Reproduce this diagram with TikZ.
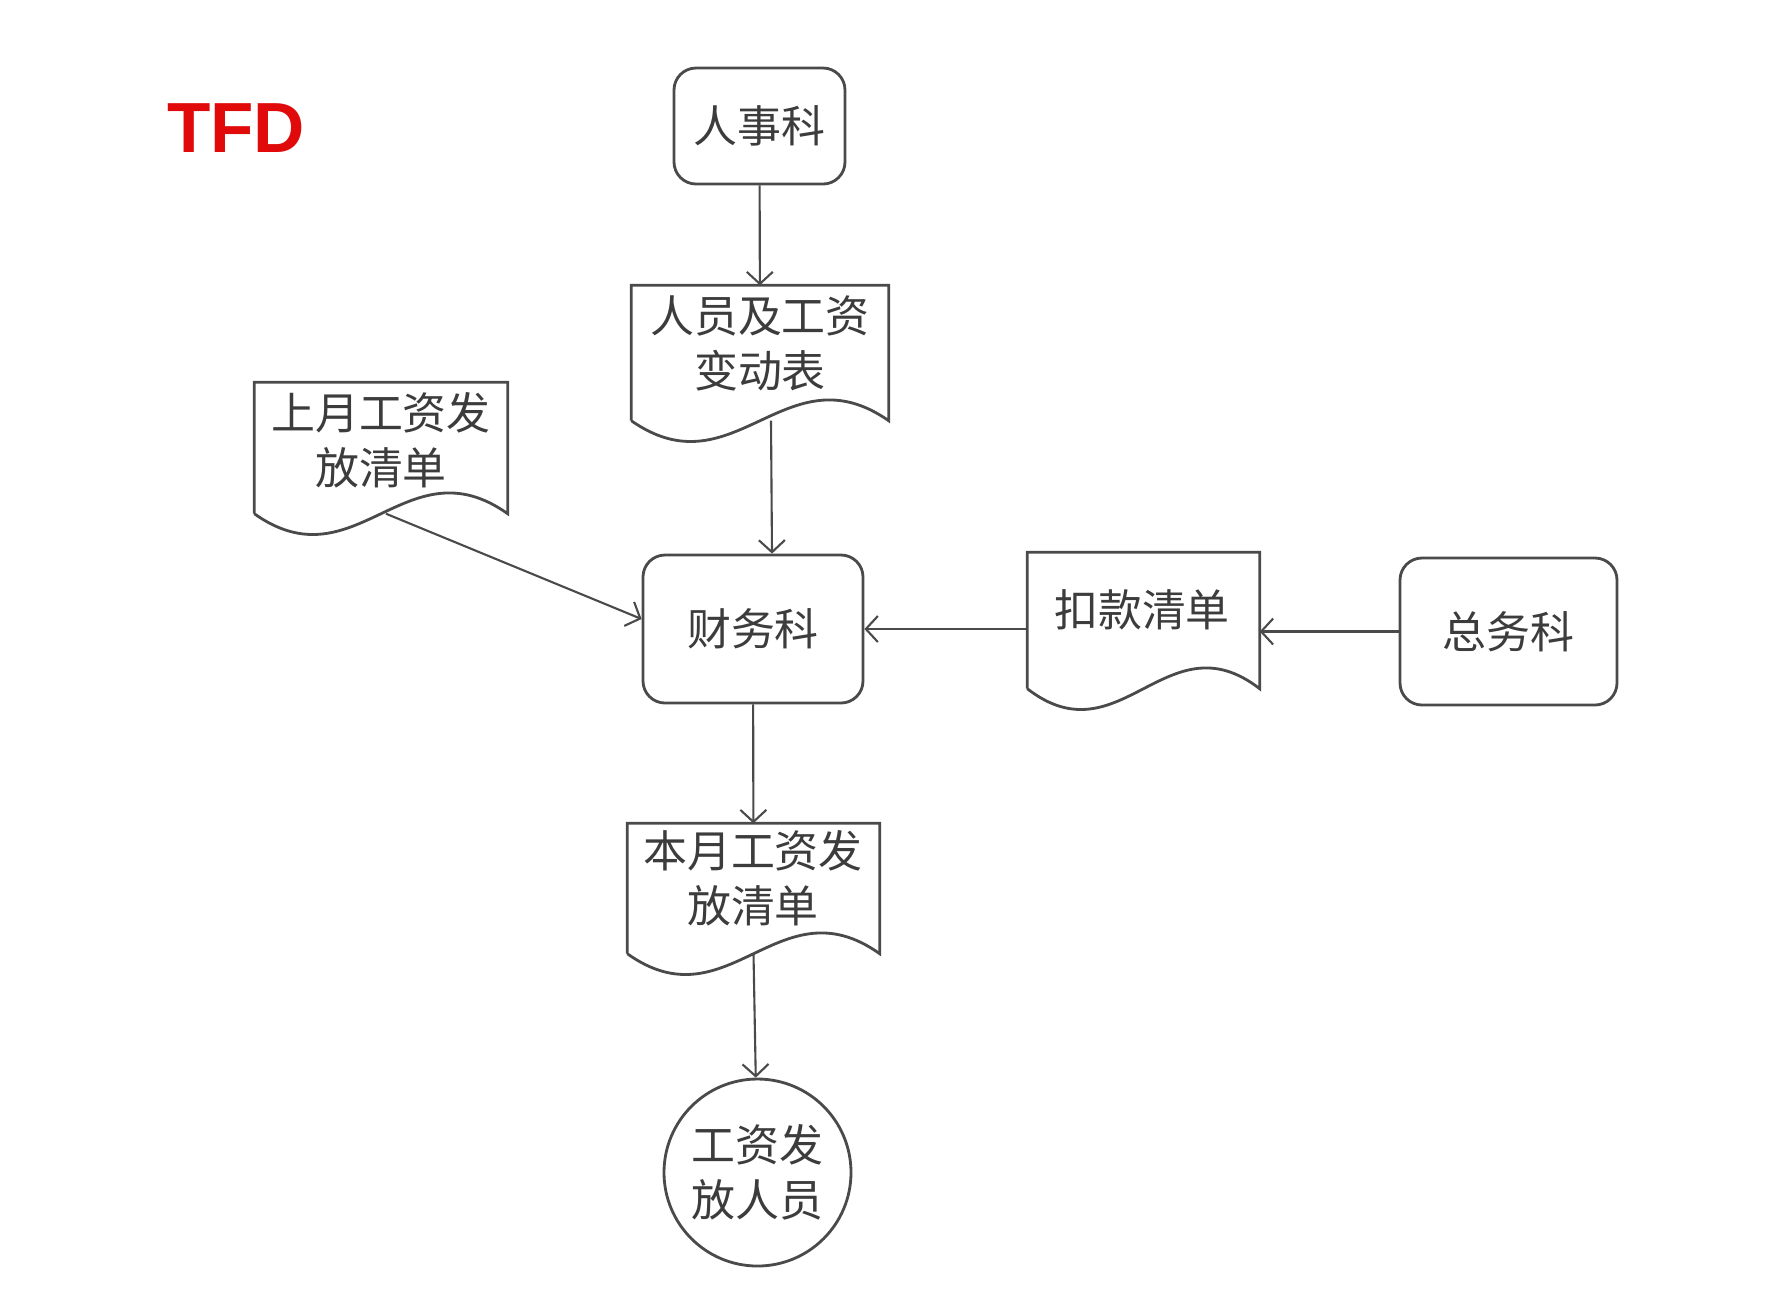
\documentclass[tikz,border=0pt]{standalone}
\usepackage{fontspec}
\setmainfont{Liberation Sans}
\newfontfamily\cjk{Noto Sans CJK SC}
\usetikzlibrary{arrows.meta,calc}

\definecolor{lineGray}{HTML}{4A4A4A}
\definecolor{textGray}{HTML}{3C3C3C}
\definecolor{tfdRed}{HTML}{E10A0A}

% outline of a document node: three straight sides and a wavy bottom
\newcommand{\docwave}[1]{%
    \draw[shapeLine] (#1.south west) -- (#1.north west) -- (#1.north east) -- (#1.south east)
        .. controls ($(#1.south west)!0.6!(#1.south east)+(0,0.72)$)
        and ($(#1.south west)!0.4!(#1.south east)-(0,0.72)$) .. (#1.south west);}

\begin{document}
\begin{tikzpicture}[
        shapeLine/.style={
            draw=lineGray,
            line width=0.8pt
        },
        roundNode/.style={
            rectangle,
            rounded corners=0.22cm,
            shapeLine,
            font=\cjk\fontsize{12.5pt}{15.6pt}\selectfont,
            text=textGray
        },
        docBox/.style={
            rectangle,
            draw=none,
            inner sep=0pt
        },
        docText/.style={
            align=center,
            inner sep=0pt,
            font=\cjk\fontsize{12.5pt}{15.6pt}\selectfont,
            text=textGray
        },
        arr/.style={
            draw=lineGray,
            line width=0.6pt,
            -{Straight Barb[length=0.12cm,width=0.26cm]}
        }
    ]
        \useasboundingbox[fill=white] (0,0) rectangle (17.78,-13.12);

        \node[font=\fontsize{20.2pt}{21pt}\selectfont\bfseries, text=tfdRed] (tfd) at (2.36,-1.28) {TFD};

        \node[roundNode, minimum width=1.71cm, minimum height=1.16cm] (rsk) at (7.595,-1.26) {人事科};

        \node[docBox, minimum width=2.56cm, minimum height=1.34cm] (rydoc) at (7.60,-3.53) {};
        \docwave{rydoc}
        \node[docText] (rydocText) at (7.60,-3.43) {人员及工资\\变动表};

        \node[docBox, minimum width=2.52cm, minimum height=1.30cm] (sydoc) at (3.81,-4.48) {};
        \docwave{sydoc}
        \node[docText] (sydocText) at (3.81,-4.40) {上月工资发\\放清单};

        \node[roundNode, minimum width=2.20cm, minimum height=1.48cm] (cw) at (7.53,-6.29) {财务科};

        \node[docBox, minimum width=2.31cm, minimum height=1.35cm] (kkdoc) at (11.435,-6.205) {};
        \docwave{kkdoc}
        \node[docText] (kkdocText) at (11.42,-6.10) {扣款清单};

        \node[roundNode, minimum width=2.17cm, minimum height=1.47cm] (zw) at (15.085,-6.315) {总务科};

        \node[docBox, minimum width=2.51cm, minimum height=1.29cm] (bydoc) at (7.535,-8.885) {};
        \docwave{bydoc}
        \node[docText] (bydocText) at (7.53,-8.78) {本月工资发\\放清单};

        \node[circle, shapeLine, minimum size=1.87cm, inner sep=0pt, align=center,
              font=\cjk\fontsize{12.5pt}{15.6pt}\selectfont, text=textGray] (ry) at (7.575,-11.725) {工资发\\放人员};

        \draw[arr] (rsk) -- (rydoc);
        \draw[arr] ([xshift=0.11cm]rydoc.south) -- ([xshift=0.19cm]cw.north);
        \draw[arr] ([xshift=0.05cm]sydoc.south) -- ([yshift=0.1cm]cw.west);
        \draw[arr] (kkdoc.west |- cw.east) -- (cw.east);
        \draw[arr] (zw.west) -- (zw.west -| kkdoc.east);
        \draw[arr] (cw) -- (bydoc);
        \draw[arr] (bydoc.south) -- (ry);

    \end{tikzpicture}
\end{document}
